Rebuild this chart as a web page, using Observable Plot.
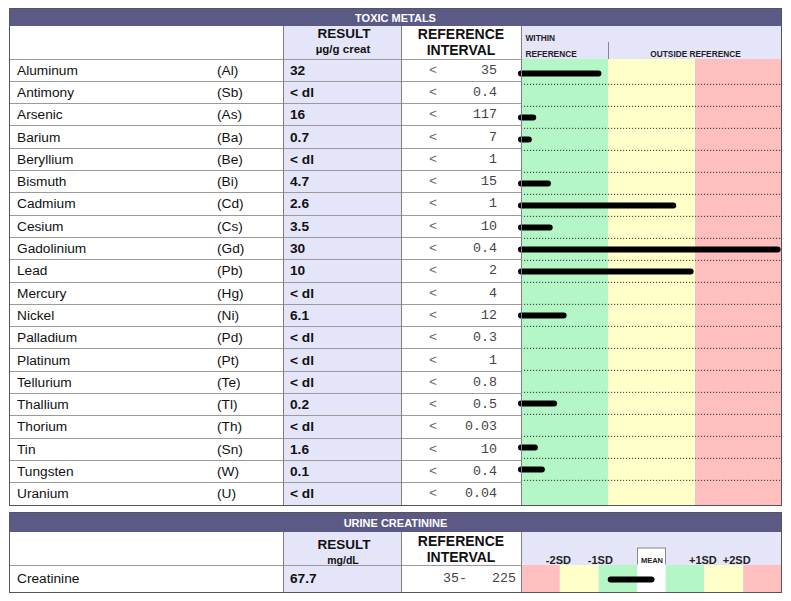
<!DOCTYPE html>
<html><head><meta charset="utf-8">
<script src="https://cdn.jsdelivr.net/npm/d3@7"></script>
<script src="https://cdn.jsdelivr.net/npm/@observablehq/plot@0.6"></script>
<style>
body{margin:0;background:#fff;}
#root{position:relative;width:791px;height:601px;font-family:"Liberation Sans",Arial,sans-serif;overflow:hidden;background:#fff;}
.abs{position:absolute;box-sizing:border-box;}
.t{position:absolute;white-space:nowrap;line-height:1;}
.plotwrap{position:absolute;}
.plotwrap svg{display:block;}
</style></head><body><div id="root"></div>
<script>
// ---------- data ----------
const sectionTitle = "TOXIC METALS";
const elements = ["Aluminum","Antimony","Arsenic","Barium","Beryllium","Bismuth","Cadmium","Cesium","Gadolinium","Lead","Mercury","Nickel","Palladium","Platinum","Tellurium","Thallium","Thorium","Tin","Tungsten","Uranium"];
const symbols = ["(Al)","(Sb)","(As)","(Ba)","(Be)","(Bi)","(Cd)","(Cs)","(Gd)","(Pb)","(Hg)","(Ni)","(Pd)","(Pt)","(Te)","(Tl)","(Th)","(Sn)","(W)","(U)"];
const results = ["32","< dl","16","0.7","< dl","4.7","2.6","3.5","30","10","< dl","6.1","< dl","< dl","< dl","0.2","< dl","1.6","0.1","< dl"];
const refLimits = ["35","0.4","117","7","1","15","1","10","0.4","2","4","12","0.3","1","0.8","0.5","0.03","10","0.4","0.04"];
// bar length in zone units (0-1 within reference, 1-3 outside)
const barLevels = [0.89,null,0.14,0.09,null,0.31,1.75,0.33,2.95,1.95,null,0.49,null,null,null,0.38,null,0.16,0.24,null];
const zoneBounds = [0,1,2,3];
const zoneColors = ["#b5f6c6","#ffffc9","#ffbfbf"];

const section2Title = "URINE CREATININE";
const creatName = "Creatinine";
const creatResult = "67.7";
const creatRef = ["35-","225"];
const sdBounds = [0,1,2,3,3.72,4.72,5.72,6.72];
const sdColors = ["#ffbfbf","#ffffc9","#b5f6c6","#ffffff","#b5f6c6","#ffffc9","#ffbfbf"];
const sdLabels = ["-2SD","-1SD","+1SD","+2SD"];
const sdLabelPos = [0.95,2.03,4.67,5.54];
const meanBox = [3,3.72];
const creatBar = [2.31,3.36];

// ---------- styles / layout ----------
const BAND = "#5b5a86", LAV = "#e5e5fa", LINE = "#9a9a9a", BORDER = "#555";
const L = 9, R = 782, colRes = 283, colRef = 401, colChart = 521;
const rowH = 22.3;
const t1 = {top: 8, bandBot: 26, headBot: 59};
t1.bot = t1.headBot + rowH * elements.length;
const t2 = {top: 512, bandBot: 532, headBot: 565, bot: 592};

const root = document.getElementById("root");
function box(x, y, w, h, css) {
  const d = document.createElement("div"); d.className = "abs";
  Object.assign(d.style, {left: x + "px", top: y + "px", width: w + "px", height: h + "px"}, css || {});
  root.appendChild(d); return d;
}
function label(x, y, str, css, anchor) {
  const d = document.createElement("div"); d.className = "t"; d.textContent = str;
  const tx = anchor === "middle" ? "-50%" : anchor === "end" ? "-100%" : "0";
  Object.assign(d.style, {left: x + "px", top: y + "px", transform: `translate(${tx},-50%)`}, css || {});
  root.appendChild(d); return d;
}
const nameCss = {fontSize: "13.7px", color: "#111"};
const resCss = {fontSize: "13.7px", fontWeight: "bold", color: "#111"};
const refCss = {fontSize: "13.3px", color: "#444", fontFamily: "'Liberation Mono','Courier New',monospace"};
const headCss = {fontSize: "13.5px", fontWeight: "bold", color: "#111"};
const bandCss = {fontSize: "11px", fontWeight: "bold", color: "#fff"};
const smallHead = {fontSize: 8.3, fontWeight: "bold", fill: "#222"};

// ---------- table 1 ----------
box(L, t1.top, R - L, t1.bandBot - t1.top, {background: BAND});
box(colRes, t1.bandBot, colRef - colRes, t1.bot - t1.bandBot, {background: LAV});
box(colChart, t1.bandBot, R - colChart, t1.headBot - t1.bandBot, {background: LAV});

const metals = elements.map((e, i) => ({name: e, level: barLevels[i]}));
const zones = zoneColors.map((c, i) => ({x1: zoneBounds[i], x2: zoneBounds[i + 1], fill: c}));
const chartH = rowH * elements.length;
const plot1 = Plot.plot({
  width: R - colChart, height: (t1.headBot - t1.bandBot) + chartH,
  marginTop: t1.headBot - t1.bandBot, marginBottom: 0, marginLeft: 0, marginRight: 0,
  style: {background: "transparent", overflow: "visible", fontFamily: "Liberation Sans, Arial, sans-serif"},
  x: {domain: [0, 3], axis: null},
  y: {type: "point", domain: elements, padding: 0.5, axis: null},
  marks: [
    Plot.rect(zones, {x1: "x1", x2: "x2", fill: "fill"}),
    Plot.ruleY(elements.slice(1), {y: d => d, dy: -rowH / 2, stroke: "#333", strokeWidth: 1, strokeDasharray: "1.2,1.8"}),
    Plot.ruleX([zoneBounds[1]], {insetTop: -17, insetBottom: chartH, stroke: "#888"}),
    Plot.text(["WITHIN"], {x: [zoneBounds[0]], frameAnchor: "top", dy: -24, dx: 4, textAnchor: "start", ...smallHead}),
    Plot.text(["REFERENCE"], {x: [zoneBounds[0]], frameAnchor: "top", dy: -8, dx: 4, textAnchor: "start", ...smallHead}),
    Plot.text(["OUTSIDE REFERENCE"], {x: [(zoneBounds[1] + zoneBounds[3]) / 2], frameAnchor: "top", dy: -8, textAnchor: "middle", ...smallHead}),
    Plot.ruleY(metals.filter(d => d.level != null), {y: "name", x1: 0, x2: "level", stroke: "#000", strokeWidth: 6, strokeLinecap: "round"})
  ]
});
const w1 = document.createElement("div"); w1.className = "plotwrap";
w1.style.left = colChart + "px"; w1.style.top = t1.bandBot + "px";
w1.appendChild(plot1); root.appendChild(w1);

// lines table 1
for (let i = 0; i < elements.length; i++) {
  box(L, t1.headBot + i * rowH - 0.5, colChart - L, 1, {background: LINE});
}
[colRes, colRef, colChart].forEach(x => box(x - 0.5, t1.bandBot, 1, t1.bot - t1.bandBot, {background: "#808080"}));
box(L, t1.top, R - L, t1.bot - t1.top + 1, {border: "1px solid " + BORDER});

// texts table 1
label((L + R) / 2, (t1.top + t1.bandBot) / 2 + 0.5, sectionTitle, bandCss, "middle");
label((colRes + colRef) / 2 + 2, 34, "RESULT", headCss, "middle");
label((colRes + colRef) / 2 + 1, 50, "µg/g creat", {fontSize: "11.5px", fontWeight: "bold", color: "#111"}, "middle");
label((colRef + colChart) / 2, 34, "REFERENCE", {fontSize: "14px", fontWeight: "bold", color: "#111"}, "middle");
label((colRef + colChart) / 2, 50, "INTERVAL", {fontSize: "14px", fontWeight: "bold", color: "#111"}, "middle");
elements.forEach((e, i) => {
  const cy = t1.headBot + (i + 0.5) * rowH + 0.5;
  label(17, cy, e, nameCss);
  label(217, cy, symbols[i], nameCss);
  label(290, cy, results[i], resCss);
  label(433, cy, "<", {...refCss, color: "#666"}, "middle");
  label(497, cy, refLimits[i], refCss, "end");
});

// ---------- table 2 ----------
box(L, t2.top, R - L, t2.bandBot - t2.top, {background: BAND});
box(colRes, t2.bandBot, colRef - colRes, t2.bot - t2.bandBot, {background: LAV});
box(colChart, t2.bandBot, R - colChart, t2.headBot - t2.bandBot, {background: LAV});

const sdZones = sdColors.map((c, i) => ({x1: sdBounds[i], x2: sdBounds[i + 1], fill: c}));
const rowH2 = t2.bot - t2.headBot;
const plot2 = Plot.plot({
  width: R - colChart, height: t2.bot - t2.bandBot,
  marginTop: t2.headBot - t2.bandBot, marginBottom: 0, marginLeft: 0, marginRight: 0,
  style: {background: "transparent", overflow: "visible", fontFamily: "Liberation Sans, Arial, sans-serif"},
  x: {domain: [sdBounds[0], sdBounds[sdBounds.length - 1]], axis: null},
  y: {type: "point", domain: [creatName], padding: 0.5, axis: null},
  marks: [
    Plot.rect(sdZones, {x1: "x1", x2: "x2", fill: "fill"}),
    Plot.rect([meanBox], {x1: d => d[0], x2: d => d[1], insetTop: -17, insetBottom: rowH2, fill: "#fff", stroke: "#888"}),
    Plot.rect([meanBox], {x1: d => d[0], x2: d => d[1], insetTop: -1, fill: "#fff"}),
    Plot.text(sdLabels, {x: sdLabelPos, frameAnchor: "top", dy: -9, fontSize: 11, fontWeight: "bold", fill: "#222"}),
    Plot.text(["MEAN"], {x: [(meanBox[0] + meanBox[1]) / 2], frameAnchor: "top", dy: -8, fontSize: 7.5, fontWeight: "bold", fill: "#222"}),
    Plot.ruleY([{name: creatName, x1: creatBar[0], x2: creatBar[1]}], {y: "name", x1: "x1", x2: "x2", stroke: "#000", strokeWidth: 6, strokeLinecap: "round"})
  ]
});
const w2 = document.createElement("div"); w2.className = "plotwrap";
w2.style.left = colChart + "px"; w2.style.top = t2.bandBot + "px";
w2.appendChild(plot2); root.appendChild(w2);

box(L, t2.headBot - 0.5, colChart - L, 1, {background: LINE});
[colRes, colRef, colChart].forEach(x => box(x - 0.5, t2.bandBot, 1, t2.bot - t2.bandBot, {background: "#808080"}));
box(L, t2.top, R - L, t2.bot - t2.top + 1, {border: "1px solid " + BORDER});

label((L + R) / 2, (t2.top + t2.bandBot) / 2 + 0.5, section2Title, bandCss, "middle");
label((colRes + colRef) / 2 + 2, 545, "RESULT", headCss, "middle");
label((colRes + colRef) / 2 + 1, 559.5, "mg/dL", {fontSize: "10.5px", fontWeight: "bold", color: "#111"}, "middle");
label((colRef + colChart) / 2, 541, "REFERENCE", {fontSize: "14px", fontWeight: "bold", color: "#111"}, "middle");
label((colRef + colChart) / 2, 557, "INTERVAL", {fontSize: "14px", fontWeight: "bold", color: "#111"}, "middle");
const cy2 = (t2.headBot + t2.bot) / 2 + 0.5;
label(17, cy2, creatName, nameCss);
label(290, cy2, creatResult, resCss);
label(467, cy2, creatRef[0], refCss, "end");
label(516, cy2, creatRef[1], refCss, "end");
</script></body></html>
